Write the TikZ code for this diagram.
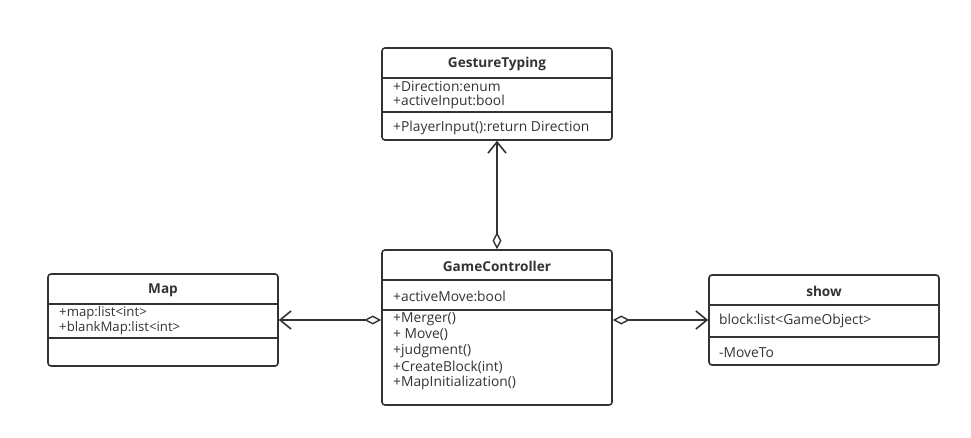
\documentclass[tikz,border=0pt]{standalone}
\usepackage{fontspec}
\setmainfont{Open Sans}
\usetikzlibrary{arrows.meta}
\definecolor{ink}{HTML}{333333}
\begin{document}
\begin{tikzpicture}[x=1pt,y=-1pt,
 box/.style={draw=ink,line width=1.6pt,rounded corners=3pt,minimum width=230pt,inner sep=0pt},
 sep/.style={draw=ink,line width=1.4pt},
 title/.style={font=\bfseries\fontsize{13.6}{15}\selectfont,text=ink,inner sep=0pt},
 txt/.style={font=\fontsize{13.8}{15}\selectfont,text=ink,anchor=west,inner sep=0pt},
 stxt/.style={font=\fontsize{13.2}{15}\selectfont,text=ink,anchor=west,inner sep=0pt},
 conn/.style={draw=ink,line width=1.6pt},
 barb/.tip={Straight Barb[length=11pt,width=18pt,line width=1.6pt]},
 agg/.tip={Diamond[open,fill=white,length=17pt,width=9pt,line width=1.4pt]},
]
\useasboundingbox (0,0) rectangle (971,438);
% GestureTyping
\node[box,minimum height=92pt] (gt) at (497,94) {};
\draw[sep] (382,78) -- (612,78);
\draw[sep] (382,112) -- (612,112);
\node[title] (gtt) at (497,64) {GestureTyping};
\node[txt] (gta1) at (393,87) {+Direction:enum};
\node[txt] (gta2) at (393,102) {+activeInput:bool};
\node[txt] (gtm1) at (393,128) {+PlayerInput():return Direction};
% GameController
\node[box,minimum height=155pt] (gc) at (497,327.5) {};
\draw[sep] (382,280) -- (612,280);
\draw[sep] (382,310) -- (612,310);
\node[title] (gct) at (497,266) {GameController};
\node[txt] (gca1) at (393,296) {+activeMove:bool};
\node[txt] (gcm1) at (393,319) {+Merger()};
\node[txt] (gcm2) at (393,335) {+ Move()};
\node[txt] (gcm3) at (393,351) {+judgment()};
\node[txt] (gcm4) at (393,367) {+CreateBlock(int)};
\node[txt] (gcm5) at (393,383) {+MapInitialization()};
% Map
\node[box,minimum height=92pt] (map) at (163,320) {};
\draw[sep] (48,304) -- (278,304);
\draw[sep] (48,338) -- (278,338);
\node[title] (mapt) at (163,290) {Map};
\node[stxt] (mapa1) at (59,313) {+map:list<int>};
\node[stxt] (mapa2) at (59,328) {+blankMap:list<int>};
% show
\node[box,minimum height=90pt] (sh) at (824,320) {};
\draw[sep] (709,305) -- (939,305);
\draw[sep] (709,337) -- (939,337);
\node[title] (sht) at (824,291) {show};
\node[txt] (sha1) at (719,321) {block:list<GameObject>};
\node[txt] (shm1) at (719,353) {-MoveTo};
% connectors
\draw[conn,barb-agg] (gt.south) -- (gc.north);
\draw[conn,barb-agg] (map.east) -- (map.east -| gc.west);
\draw[conn,agg-barb] (gc.east |- sh.west) -- (sh.west);
\end{tikzpicture}
\end{document}
